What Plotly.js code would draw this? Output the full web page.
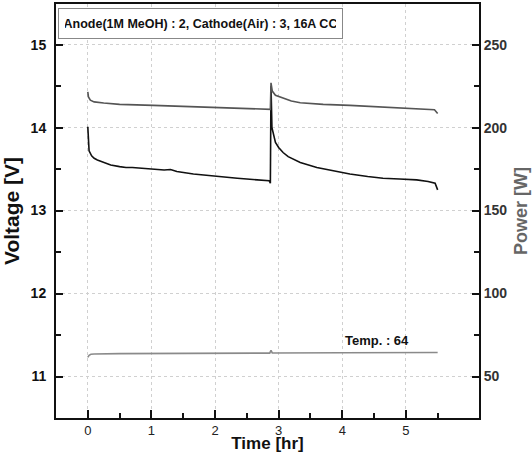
<!DOCTYPE html>
<html>
<head>
<meta charset="utf-8">
<script src="https://cdn.plot.ly/plotly-3.0.1.min.js"></script>
<style>html,body{margin:0;padding:0;background:#fff;}#chart{width:532px;height:453px;}</style>
</head>
<body>
<div id="chart"></div>
<script>
// Voltage [V] (left axis)
const voltTime = [0, 0.005, 0.02, 0.06, 0.1, 0.15, 0.25, 0.36, 0.5, 0.6, 0.7, 0.85, 1.03, 1.2, 1.3, 1.4, 1.66, 1.9, 2.19, 2.35, 2.5, 2.7, 2.85, 2.87, 2.88, 2.895, 2.92, 2.95, 3.0, 3.07, 3.15, 3.25, 3.34, 3.6, 3.85, 4.0, 4.12, 4.4, 4.64, 4.9, 5.17, 5.35, 5.46, 5.5];
const voltage  = [14.01, 13.85, 13.72, 13.66, 13.63, 13.61, 13.58, 13.55, 13.53, 13.52, 13.52, 13.51, 13.5, 13.49, 13.495, 13.47, 13.44, 13.42, 13.4, 13.39, 13.38, 13.37, 13.36, 13.33, 14.5, 14.0, 13.9, 13.82, 13.76, 13.7, 13.65, 13.61, 13.58, 13.52, 13.48, 13.46, 13.44, 13.41, 13.39, 13.38, 13.37, 13.35, 13.33, 13.25];

// Power [W] (right axis)
const powerTime = [0, 0.01, 0.04, 0.1, 0.25, 0.36, 0.5, 1.03, 1.5, 2.19, 2.6, 2.87, 2.88, 2.9, 2.95, 3.07, 3.2, 3.34, 3.7, 4.12, 4.6, 5.17, 5.45, 5.5];
const power     = [221.5, 218.5, 216.5, 215.5, 214.8, 214.4, 214.0, 213.4, 212.8, 212.0, 211.5, 211.0, 227.0, 222.0, 219.5, 217.6, 216.0, 215.0, 214.0, 213.4, 212.5, 211.5, 210.8, 208.5];

// Temperature (drawn on the right axis)
const tempTime = [0, 0.02, 0.05, 0.1, 0.5, 1.5, 2.5, 2.86, 2.88, 2.9, 4.0, 5.5];
const temp     = [61.5, 62.8, 63.4, 63.6, 63.8, 64.0, 64.1, 64.1, 65.8, 64.2, 64.3, 64.5];

const xTicks = [0, 1, 2, 3, 4, 5];
const xMinor = [0.5, 1.5, 2.5, 3.5, 4.5, 5.5];
const yTicks = [11, 12, 13, 14, 15];
const yMinor = [10.5, 11.5, 12.5, 13.5, 14.5, 15.5];
const y2Ticks = [50, 100, 150, 200, 250];
const y2Minor = [25, 75, 125, 175, 225, 275];

const boxLabel = 'Anode(1M MeOH) : 2, Cathode(Air) : 3, 16A CC';
const tempLabel = 'Temp. : 64';

const FONT = 'Liberation Sans, Arial, sans-serif';

const traces = [
  {x: voltTime, y: voltage, type: 'scatter', mode: 'lines', name: 'Voltage',
   line: {color: '#111111', width: 1.6}, yaxis: 'y'},
  {x: powerTime, y: power, type: 'scatter', mode: 'lines', name: 'Power',
   line: {color: '#555555', width: 1.6}, yaxis: 'y2'},
  {x: tempTime, y: temp, type: 'scatter', mode: 'lines', name: 'Temp',
   line: {color: '#8a8a8a', width: 1.6}, yaxis: 'y2'}
];

const layout = {
  width: 532, height: 453,
  margin: {l: 56, r: 53, t: 4, b: 35},
  paper_bgcolor: '#fff', plot_bgcolor: '#fff',
  showlegend: false,
  font: {family: FONT, color: '#111'},
  xaxis: {
    range: [-0.5, 6.15], tickmode: 'array', tickvals: xTicks,
    ticks: 'inside', ticklen: 8, tickwidth: 2, tickcolor: '#111',
    minor: {tickmode: 'array', tickvals: xMinor, ticks: 'inside', ticklen: 5, tickwidth: 2, tickcolor: '#111', showgrid: false},
    showline: true, linecolor: '#111', linewidth: 2, mirror: true,
    showgrid: true, gridcolor: '#d0d0d0', griddash: 'dot', gridwidth: 1,
    zeroline: false,
    tickfont: {size: 13, color: '#222', family: FONT},
    ticklabelstandoff: -1,
    title: {text: 'Time [hr]', font: {size: 17, family: FONT, weight: 'bold', color: '#111'}, standoff: 5}
  },
  yaxis: {
    range: [10.5, 15.49], tickmode: 'array', tickvals: yTicks,
    ticks: 'inside', ticklen: 7, tickwidth: 2, tickcolor: '#111',
    minor: {tickmode: 'array', tickvals: yMinor, ticks: 'inside', ticklen: 5, tickwidth: 2, tickcolor: '#111', showgrid: false},
    showline: true, linecolor: '#111', linewidth: 2,
    showgrid: true, gridcolor: '#d0d0d0', griddash: 'dot', gridwidth: 1,
    zeroline: false,
    tickfont: {size: 14, color: '#111', family: FONT, weight: 'bold'},
    ticklabelstandoff: 5,
    title: {text: 'Voltage [V]', font: {size: 21, family: FONT, weight: 'bold', color: '#111'}, standoff: 6}
  },
  yaxis2: {
    overlaying: 'y', side: 'right',
    range: [25, 274.5], tickmode: 'array', tickvals: y2Ticks,
    ticks: 'inside', ticklen: 7, tickwidth: 2, tickcolor: '#111',
    minor: {tickmode: 'array', tickvals: y2Minor, ticks: 'inside', ticklen: 5, tickwidth: 2, tickcolor: '#111', showgrid: false},
    showline: true, linecolor: '#111', linewidth: 2,
    showgrid: false, zeroline: false,
    tickfont: {size: 14, color: '#333', family: FONT, weight: 'bold'},
    title: {text: 'Power [W]', font: {size: 18, family: FONT, weight: 'bold', color: '#666'}, standoff: 8}
  },
  annotations: [
    {xref: 'paper', yref: 'paper', x: 0.3416, y: 0.953, xanchor: 'center', yanchor: 'middle',
     text: boxLabel, showarrow: false, bordercolor: '#888', borderwidth: 1, borderpad: 6,
     width: 271, height: 17,
     bgcolor: '#fff', font: {size: 12.5, family: FONT, weight: 'bold', color: '#111'}},
    {xref: 'x', yref: 'y', x: 4.54, y: 11.43, xanchor: 'center', yanchor: 'middle',
     text: tempLabel, showarrow: false, font: {size: 13, family: FONT, weight: 'bold', color: '#111'}}
  ]
};

Plotly.newPlot('chart', traces, layout, {displayModeBar: false, staticPlot: true});
</script>
</body>
</html>
